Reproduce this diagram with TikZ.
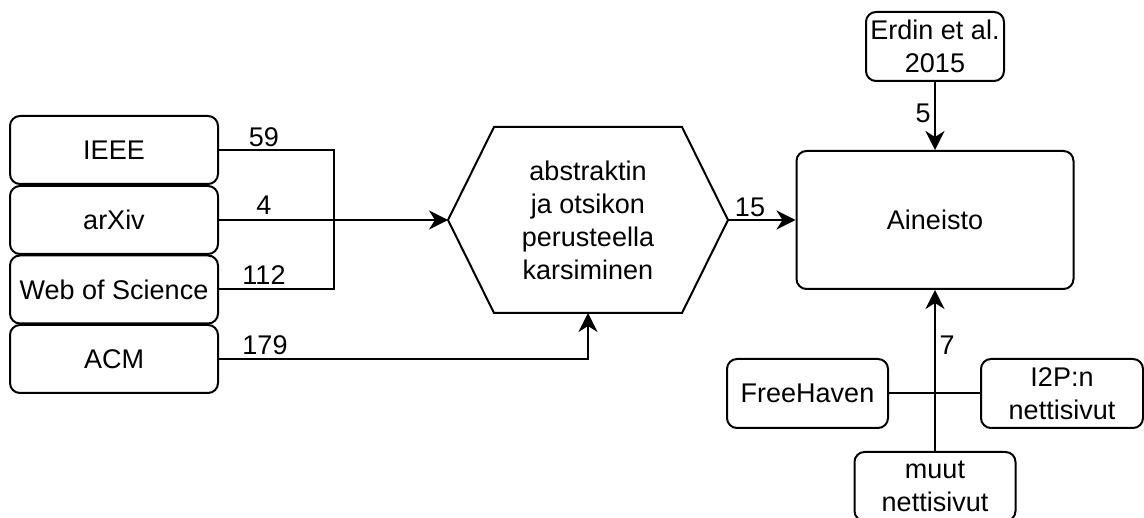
\documentclass[tikz,border=0pt]{standalone}
\usepackage{fontspec}
\setmainfont{Liberation Sans}
\usetikzlibrary{arrows.meta,calc}
\begin{document}
\begin{tikzpicture}[x=1pt,y=-1pt,
  line width=2pt,
  every node/.style={font=\fontsize{27}{33}\selectfont},
  box/.style={draw,rounded corners=10pt,align=center,inner sep=0pt},
  lbl/.style={anchor=base,inner sep=0pt},
  arr/.style={-{Stealth[length=19pt,width=19pt,inset=6pt]}}]
\useasboundingbox (0,0) rectangle (1144,518);
% left sources
\node[box,minimum width=208pt,minimum height=68pt] (ieee) at (114,150) {IEEE};
\node[box,minimum width=208pt,minimum height=68pt] (arxiv) at (114,220) {arXiv};
\node[box,minimum width=208pt,minimum height=68pt] (wos) at (114,289.5) {Web of Science};
\node[box,minimum width=208pt,minimum height=68pt] (acm) at (114,359) {ACM};
% hexagon
\node[inner sep=0pt,minimum width=278pt,minimum height=184pt,align=center] (hex) at (588,220) {abstraktin\\ja otsikon\\perusteella\\karsiminen};
\draw ([xshift=46pt]hex.north west) -- ([xshift=-46pt]hex.north east) -- (hex.east)
  -- ([xshift=-46pt]hex.south east) -- ([xshift=46pt]hex.south west) -- (hex.west) -- cycle;
% right side
\node[box,minimum width=277pt,minimum height=138pt] (ain) at (935,220) {Aineisto};
\node[box,minimum width=138pt,minimum height=69pt] (erdin) at (935,46.5) {Erdin et al.\\2015};
\node[box,minimum width=161pt,minimum height=69pt] (free) at (807.5,393.5) {FreeHaven};
\node[box,minimum width=162pt,minimum height=69pt] (i2p) at (1062,393.5) {I2P:n\\nettisivut};
\node[box,minimum width=161pt,minimum height=69pt] (muut) at (935,486.5) {muut\\nettisivut};
% connectors left
\coordinate (j) at (334,220);
\draw (ieee.east) -| (j);
\draw (wos.east) -| (j);
\draw[arr] (arxiv.east) -- (hex.west);
\draw[arr] (acm.east) -| (hex.south);
\draw[arr] (hex.east) -- (ain.west);
\draw[arr] (erdin.south) -- (ain.north);
\draw[arr] (muut.north) -- (ain.south);
\draw (free.east) -- (i2p.west);
% labels
\node[lbl] (l59) at (264,147) {59};
\node[lbl] (l4) at (264,215) {4};
\node[lbl] (l112) at (264,285) {112};
\node[lbl] (l179) at (265,355) {179};
\node[lbl] (l15) at (750,217) {15};
\node[lbl] (l5) at (923,123) {5};
\node[lbl] (l7) at (947,355) {7};
\end{tikzpicture}
\end{document}
